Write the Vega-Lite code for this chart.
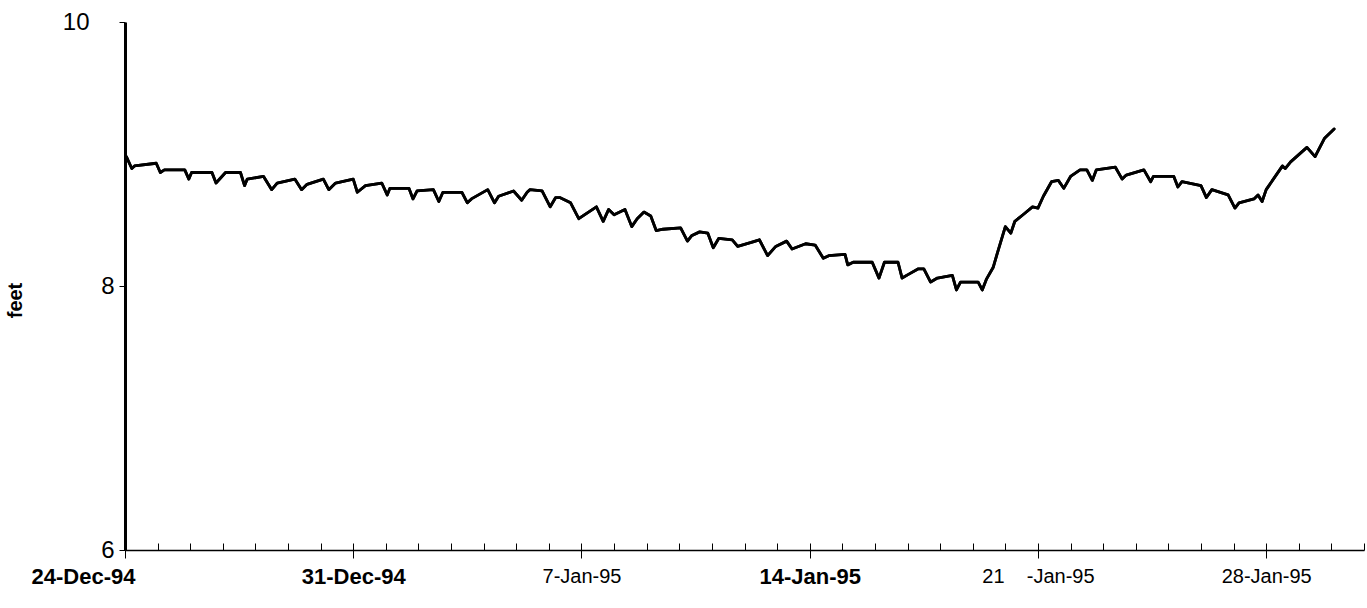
{
  "$schema": "https://vega.github.io/schema/vega-lite/v6.json",
  "width": 1239,
  "height": 528,
  "autosize": "none",
  "padding": {"left": 125, "top": 22, "right": 3, "bottom": 58},
  "background": "white",
  "config": {"view": {"stroke": null}, "font": "Liberation Sans"},
  "data": {"values": [
    {"t": "1994-12-24T01:00", "feet": 8.98},
    {"t": "1994-12-24T05:00", "feet": 8.89},
    {"t": "1994-12-24T07:00", "feet": 8.91},
    {"t": "1994-12-24T23:00", "feet": 8.93},
    {"t": "1994-12-25T02:00", "feet": 8.86},
    {"t": "1994-12-25T05:00", "feet": 8.88},
    {"t": "1994-12-25T20:00", "feet": 8.88},
    {"t": "1994-12-25T23:00", "feet": 8.81},
    {"t": "1994-12-26T01:00", "feet": 8.86},
    {"t": "1994-12-26T16:00", "feet": 8.86},
    {"t": "1994-12-26T19:00", "feet": 8.78},
    {"t": "1994-12-27T02:00", "feet": 8.86},
    {"t": "1994-12-27T13:00", "feet": 8.86},
    {"t": "1994-12-27T16:00", "feet": 8.76},
    {"t": "1994-12-27T18:00", "feet": 8.81},
    {"t": "1994-12-28T06:00", "feet": 8.83},
    {"t": "1994-12-28T12:00", "feet": 8.73},
    {"t": "1994-12-28T16:00", "feet": 8.78},
    {"t": "1994-12-29T05:00", "feet": 8.81},
    {"t": "1994-12-29T10:00", "feet": 8.73},
    {"t": "1994-12-29T14:00", "feet": 8.77},
    {"t": "1994-12-30T02:00", "feet": 8.81},
    {"t": "1994-12-30T06:00", "feet": 8.73},
    {"t": "1994-12-30T11:00", "feet": 8.78},
    {"t": "1994-12-31T00:00", "feet": 8.81},
    {"t": "1994-12-31T03:00", "feet": 8.71},
    {"t": "1994-12-31T09:00", "feet": 8.76},
    {"t": "1994-12-31T21:00", "feet": 8.78},
    {"t": "1995-01-01T01:00", "feet": 8.69},
    {"t": "1995-01-01T03:00", "feet": 8.74},
    {"t": "1995-01-01T17:00", "feet": 8.74},
    {"t": "1995-01-01T20:00", "feet": 8.66},
    {"t": "1995-01-01T23:00", "feet": 8.72},
    {"t": "1995-01-02T11:00", "feet": 8.73},
    {"t": "1995-01-02T15:00", "feet": 8.64},
    {"t": "1995-01-02T18:00", "feet": 8.71},
    {"t": "1995-01-03T08:00", "feet": 8.71},
    {"t": "1995-01-03T12:00", "feet": 8.63},
    {"t": "1995-01-03T15:00", "feet": 8.66},
    {"t": "1995-01-04T03:00", "feet": 8.73},
    {"t": "1995-01-04T08:00", "feet": 8.63},
    {"t": "1995-01-04T11:00", "feet": 8.68},
    {"t": "1995-01-04T22:00", "feet": 8.72},
    {"t": "1995-01-05T04:00", "feet": 8.65},
    {"t": "1995-01-05T08:00", "feet": 8.71},
    {"t": "1995-01-05T10:00", "feet": 8.73},
    {"t": "1995-01-05T19:00", "feet": 8.72},
    {"t": "1995-01-06T01:00", "feet": 8.60},
    {"t": "1995-01-06T05:00", "feet": 8.67},
    {"t": "1995-01-06T08:00", "feet": 8.67},
    {"t": "1995-01-06T16:00", "feet": 8.63},
    {"t": "1995-01-06T22:00", "feet": 8.51},
    {"t": "1995-01-07T11:00", "feet": 8.60},
    {"t": "1995-01-07T16:00", "feet": 8.49},
    {"t": "1995-01-07T20:00", "feet": 8.58},
    {"t": "1995-01-08T00:00", "feet": 8.54},
    {"t": "1995-01-08T08:00", "feet": 8.58},
    {"t": "1995-01-08T13:00", "feet": 8.45},
    {"t": "1995-01-08T17:00", "feet": 8.51},
    {"t": "1995-01-08T22:00", "feet": 8.56},
    {"t": "1995-01-09T03:00", "feet": 8.53},
    {"t": "1995-01-09T07:00", "feet": 8.42},
    {"t": "1995-01-09T12:00", "feet": 8.43},
    {"t": "1995-01-10T01:00", "feet": 8.44},
    {"t": "1995-01-10T06:00", "feet": 8.34},
    {"t": "1995-01-10T09:00", "feet": 8.38},
    {"t": "1995-01-10T15:00", "feet": 8.41},
    {"t": "1995-01-10T21:00", "feet": 8.40},
    {"t": "1995-01-11T01:00", "feet": 8.29},
    {"t": "1995-01-11T05:00", "feet": 8.36},
    {"t": "1995-01-11T15:00", "feet": 8.35},
    {"t": "1995-01-11T19:00", "feet": 8.30},
    {"t": "1995-01-12T05:00", "feet": 8.33},
    {"t": "1995-01-12T11:00", "feet": 8.35},
    {"t": "1995-01-12T17:00", "feet": 8.23},
    {"t": "1995-01-12T23:00", "feet": 8.30},
    {"t": "1995-01-13T07:00", "feet": 8.34},
    {"t": "1995-01-13T11:00", "feet": 8.28},
    {"t": "1995-01-13T21:00", "feet": 8.32},
    {"t": "1995-01-14T04:00", "feet": 8.31},
    {"t": "1995-01-14T10:00", "feet": 8.21},
    {"t": "1995-01-14T14:00", "feet": 8.23},
    {"t": "1995-01-15T02:00", "feet": 8.24},
    {"t": "1995-01-15T04:00", "feet": 8.16},
    {"t": "1995-01-15T08:00", "feet": 8.18},
    {"t": "1995-01-15T22:00", "feet": 8.18},
    {"t": "1995-01-16T03:00", "feet": 8.06},
    {"t": "1995-01-16T07:00", "feet": 8.18},
    {"t": "1995-01-16T17:00", "feet": 8.18},
    {"t": "1995-01-16T20:00", "feet": 8.06},
    {"t": "1995-01-17T01:00", "feet": 8.09},
    {"t": "1995-01-17T08:00", "feet": 8.13},
    {"t": "1995-01-17T12:00", "feet": 8.13},
    {"t": "1995-01-17T17:00", "feet": 8.03},
    {"t": "1995-01-17T22:00", "feet": 8.06},
    {"t": "1995-01-18T09:00", "feet": 8.08},
    {"t": "1995-01-18T12:00", "feet": 7.97},
    {"t": "1995-01-18T15:00", "feet": 8.03},
    {"t": "1995-01-19T04:00", "feet": 8.03},
    {"t": "1995-01-19T07:00", "feet": 7.97},
    {"t": "1995-01-19T10:00", "feet": 8.05},
    {"t": "1995-01-19T15:00", "feet": 8.14},
    {"t": "1995-01-19T19:00", "feet": 8.28},
    {"t": "1995-01-20T00:00", "feet": 8.45},
    {"t": "1995-01-20T04:00", "feet": 8.40},
    {"t": "1995-01-20T07:00", "feet": 8.49},
    {"t": "1995-01-20T13:00", "feet": 8.54},
    {"t": "1995-01-20T20:00", "feet": 8.60},
    {"t": "1995-01-21T00:00", "feet": 8.59},
    {"t": "1995-01-21T04:00", "feet": 8.68},
    {"t": "1995-01-21T10:00", "feet": 8.79},
    {"t": "1995-01-21T15:00", "feet": 8.80},
    {"t": "1995-01-21T19:00", "feet": 8.74},
    {"t": "1995-01-22T00:00", "feet": 8.83},
    {"t": "1995-01-22T07:00", "feet": 8.88},
    {"t": "1995-01-22T12:00", "feet": 8.88},
    {"t": "1995-01-22T16:00", "feet": 8.80},
    {"t": "1995-01-22T19:00", "feet": 8.88},
    {"t": "1995-01-23T09:00", "feet": 8.90},
    {"t": "1995-01-23T14:00", "feet": 8.81},
    {"t": "1995-01-23T17:00", "feet": 8.84},
    {"t": "1995-01-24T06:00", "feet": 8.88},
    {"t": "1995-01-24T11:00", "feet": 8.79},
    {"t": "1995-01-24T13:00", "feet": 8.83},
    {"t": "1995-01-25T04:00", "feet": 8.83},
    {"t": "1995-01-25T07:00", "feet": 8.75},
    {"t": "1995-01-25T10:00", "feet": 8.79},
    {"t": "1995-01-26T00:00", "feet": 8.76},
    {"t": "1995-01-26T04:00", "feet": 8.67},
    {"t": "1995-01-26T08:00", "feet": 8.73},
    {"t": "1995-01-26T20:00", "feet": 8.69},
    {"t": "1995-01-27T01:00", "feet": 8.59},
    {"t": "1995-01-27T04:00", "feet": 8.63},
    {"t": "1995-01-27T15:00", "feet": 8.66},
    {"t": "1995-01-27T18:00", "feet": 8.69},
    {"t": "1995-01-27T21:00", "feet": 8.64},
    {"t": "1995-01-28T00:00", "feet": 8.73},
    {"t": "1995-01-28T12:00", "feet": 8.91},
    {"t": "1995-01-28T14:00", "feet": 8.89},
    {"t": "1995-01-28T18:00", "feet": 8.94},
    {"t": "1995-01-29T06:00", "feet": 9.05},
    {"t": "1995-01-29T12:00", "feet": 8.98},
    {"t": "1995-01-29T15:00", "feet": 9.04},
    {"t": "1995-01-29T19:00", "feet": 9.12},
    {"t": "1995-01-30T02:00", "feet": 9.19}
  ]},
  "encoding": {
    "y": {
      "field": "feet",
      "type": "quantitative",
      "scale": {"domain": [6, 10], "nice": false, "zero": false},
      "axis": {
        "values": [6, 8, 10],
        "title": "feet",
        "titleFontSize": 20,
        "titleFontWeight": "bold",
        "titleColor": "black",
        "titleX": -110,
        "titleY": 278,
        "titleBaseline": "middle",
        "titleAlign": "center",
        "labelFontSize": 24,
        "labelColor": "black",
        "labelPadding": {"condition": {"test": "datum.value == 10", "value": 30}, "value": 5},
        "tickSize": 6,
        "tickColor": "black",
        "tickWidth": 1,
        "domainColor": "black",
        "domainWidth": 3,
        "grid": false
      }
    }
  },
  "layer": [
    {
      "mark": {"type": "line", "color": "black", "strokeWidth": 2.8, "strokeJoin": "round", "strokeCap": "round"},
      "encoding": {
        "x": {
          "field": "t",
          "type": "temporal",
          "scale": {"domain": [{"year": 1994, "month": 12, "date": 24}, {"year": 1995, "month": 1, "date": 31}]},
          "axis": {
            "orient": "bottom",
            "tickCount": {"interval": "day", "step": 1},
            "tickSize": -7,
            "tickColor": "black",
            "tickWidth": 1,
            "labels": false,
            "title": null,
            "domainColor": "black",
            "domainWidth": 1.5,
            "grid": false
          }
        }
      }
    },
    {
      "mark": {"type": "line", "color": "black", "strokeWidth": 2.8, "strokeJoin": "round", "strokeCap": "round"},
      "encoding": {
        "x": {
          "field": "t",
          "type": "temporal",
          "axis": {
            "orient": "bottom",
            "values": [
              {"year": 1994, "month": 12, "date": 24},
              {"year": 1994, "month": 12, "date": 31},
              {"year": 1995, "month": 1, "date": 7},
              {"year": 1995, "month": 1, "date": 14},
              {"year": 1995, "month": 1, "date": 21},
              {"year": 1995, "month": 1, "date": 28}
            ],
            "labelExpr": "date(datum.value) == 21 ? '21\u00a0\u00a0\u00a0\u00a0-Jan-95' : timeFormat(datum.value, '%-d-%b-%y')",
            "tickSize": 8,
            "tickColor": "black",
            "tickWidth": 1,
            "domain": false,
            "grid": false,
            "title": null,
            "labelColor": "black",
            "labelPadding": 8,
            "labelFontSize": {"condition": {"test": "date(datum.value) == 7 || date(datum.value) == 21 || date(datum.value) == 28", "value": 20}, "value": 22},
            "labelFontWeight": {"condition": {"test": "month(datum.value) == 11 || date(datum.value) == 14", "value": "bold"}, "value": "normal"},
            "labelAlign": {"condition": {"test": "date(datum.value) == 24", "value": "right"}, "value": "center"},
            "labelOffset": {"condition": {"test": "date(datum.value) == 24", "value": 10}, "value": 0},
            "labelFlush": false,
            "labelOverlap": false
          }
        }
      }
    }
  ],
  "resolve": {"axis": {"x": "independent"}}
}
